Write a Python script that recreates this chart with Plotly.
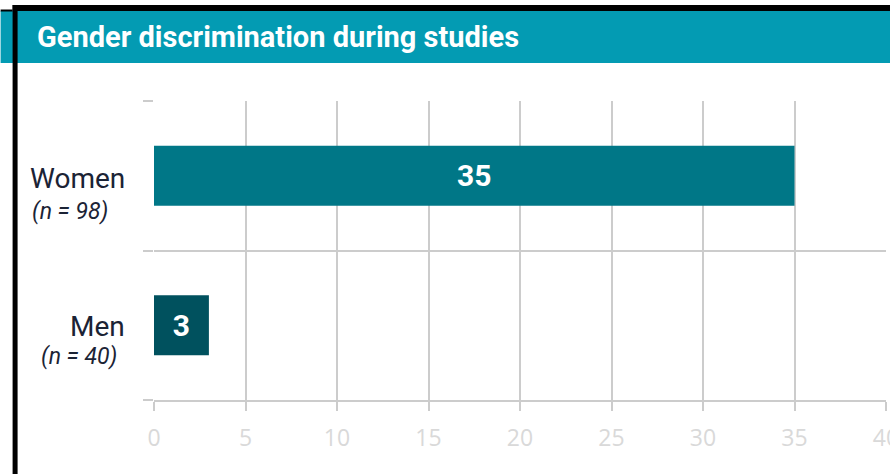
import plotly.graph_objects as go

categories = ["Women", "Men"]
sample_sizes = ["(n = 98)", "(n = 40)"]
values = [35, 3]
bar_colors = ["#007787", "#00515E"]
x_ticks = [0, 5, 10, 15, 20, 25, 30, 35, 40]
title = "Gender discrimination during studies"

W, H = 890, 474
L, R, T, B = 153.5, 886, 101, 400

def px(x):
    return (x - L) / (R - L)

def py(y):
    return (B - y) / (B - T)

fig = go.Figure()
fig.add_trace(go.Bar(
    y=categories, x=values, orientation="h",
    marker=dict(color=bar_colors, line=dict(width=0)),
    text=[str(v) for v in values], textposition="inside",
    insidetextanchor="middle", constraintext="none",
    textfont=dict(family="Roboto", size=30, color="white", weight="bold"),
    width=0.4, hoverinfo="skip",
))

shapes = [
    dict(type="rect", xref="paper", yref="paper", x0=px(0), x1=px(W), y0=py(63), y1=py(11),
         fillcolor="#039BB3", line=dict(width=0), layer="below"),
    dict(type="rect", xref="paper", yref="paper", x0=px(12), x1=px(W), y0=py(11), y1=py(5),
         fillcolor="#000000", line=dict(width=0)),
    dict(type="rect", xref="paper", yref="paper", x0=px(0), x1=px(12), y0=py(11.5), y1=py(9.5),
         fillcolor="#000000", line=dict(width=0)),
    dict(type="rect", xref="paper", yref="paper", x0=px(12), x1=px(17), y0=py(H), y1=py(5),
         fillcolor="#000000", line=dict(width=0)),
]

annotations = [
    dict(text="<b>" + title + "</b>", xref="paper", yref="paper", x=px(34), y=py(37),
         xanchor="left", yanchor="middle", showarrow=False,
         font=dict(family="Roboto", size=29, color="white")),
]
name_right = [126, 126]
n_right = [109, 118]
name_y = [178, 326]
n_y = [211, 356]
for i, c in enumerate(categories):
    annotations.append(dict(text=c, xref="paper", yref="paper", x=px(name_right[i]), y=py(name_y[i]),
                            xanchor="right", yanchor="middle", showarrow=False,
                            font=dict(family="Roboto", size=28, color="#1B2335")))
    annotations.append(dict(text="<i>" + sample_sizes[i] + "</i>", xref="paper", yref="paper",
                            x=px(n_right[i]), y=py(n_y[i]), xanchor="right", yanchor="middle",
                            showarrow=False,
                            font=dict(family="Roboto", size=23, color="#1B2335")))

fig.update_layout(
    width=W, height=H,
    margin=dict(l=L, r=W - R, t=T, b=H - B, autoexpand=False),
    paper_bgcolor="white", plot_bgcolor="white",
    showlegend=False,
    bargap=0.6,
    shapes=shapes, annotations=annotations,
    xaxis=dict(range=[0, 40], tickvals=x_ticks, ticktext=[str(t) for t in x_ticks],
               showgrid=True, gridcolor="#CCCCCC", gridwidth=1.5,
               zeroline=False, showline=True, linecolor="#CCCCCC", linewidth=1.5,
               ticks="outside", ticklen=9, tickcolor="#CCCCCC", tickwidth=1.5,
               tickfont=dict(family="Open Sans", size=23, color="#D9D9D9"),
               ticklabelstandoff=8,
               ticklabeloverflow="allow",
               automargin=False, fixedrange=True),
    yaxis=dict(categoryorder="array", categoryarray=categories[::-1],
               tickson="boundaries", showgrid=True, gridcolor="#CCCCCC", gridwidth=1.5,
               ticks="outside", ticklen=10, tickcolor="#CCCCCC", tickwidth=1.5,
               showticklabels=False, zeroline=False, showline=False,
               automargin=False, fixedrange=True),
)

fig.write_html("out.html", config={"displayModeBar": False},
               post_script="document.body.style.margin='0';document.body.style.overflow='hidden';")
